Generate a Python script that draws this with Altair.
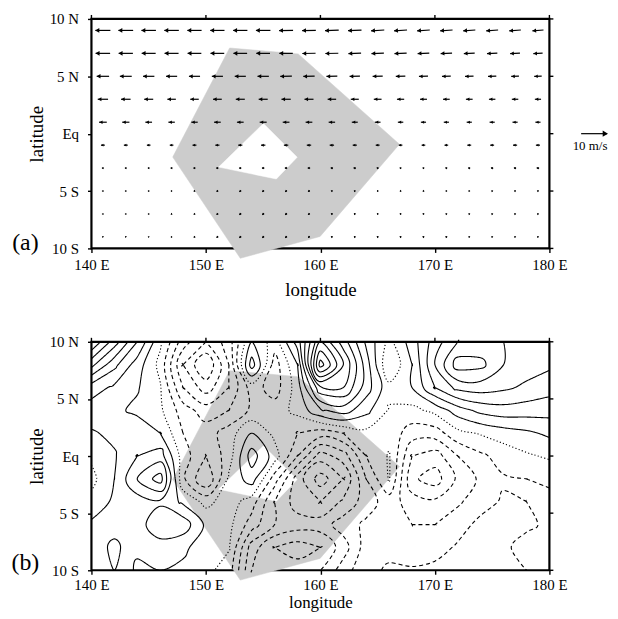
import numpy as np
import pandas as pd
import altair as alt

# ---------------- data ----------------
x_ticks = [140, 150, 160, 170, 180]
y_ticks = [-10, -5, 0, 5, 10]

# shaded region (outer polygon and inner hole), lon/lat
outer_lon = [152.07, 158.06, 166.9, 159.97, 153.0, 147.1]
outer_lat = [7.47, 6.95, -0.92, -8.96, -10.86, -2.04]
hole_lon = [155.02, 157.97, 156.15, 151.11]
hole_lat = [0.89, -2.05, -3.95, -2.91]

# panel (a): wind vectors (m/s) on a 2-degree grid
vec_lons = [141, 143, 145, 147, 149, 151, 153, 155, 157, 159,
            161, 163, 165, 167, 169, 171, 173, 175, 177, 179]
vec_lats = [9, 7, 5, 3, 1, -1, -3, -5, -7, -9]
U = [
    [-5.8, -5.7, -5.6, -5.6, -5.5, -5.5, -5.5, -5.6, -5.4, -5.3, -5.3, -5.2, -5.1, -5.0, -4.9, -4.8, -4.7, -4.6, -4.5, -4.3],
    [-5.6, -5.5, -5.4, -5.4, -5.3, -5.3, -5.3, -5.3, -5.2, -5.1, -5.0, -4.9, -4.8, -4.7, -4.5, -4.4, -4.2, -4.0, -3.8, -3.6],
    [-4.8, -4.6, -4.4, -4.3, -4.3, -4.3, -4.3, -4.4, -4.5, -4.4, -4.2, -4.0, -3.9, -3.7, -3.5, -3.4, -3.3, -3.2, -3.0, -2.9],
    [-4.0, -3.7, -3.5, -3.3, -3.3, -3.4, -3.5, -3.5, -3.6, -3.5, -3.3, -3.1, -3.0, -2.8, -2.7, -2.6, -2.6, -2.5, -2.5, -2.4],
    [-3.0, -2.8, -2.6, -2.5, -2.5, -2.6, -2.6, -2.7, -2.6, -2.6, -2.5, -2.3, -2.2, -2.1, -2.0, -2.0, -2.0, -2.0, -2.0, -2.0],
    [-1.5, -1.5, -1.4, -1.4, -1.5, -1.6, -1.6, -1.7, -1.7, -1.7, -1.7, -1.6, -1.5, -1.4, -1.4, -1.4, -1.5, -1.5, -1.6, -1.6],
    [-0.5, -0.5, -0.5, -0.6, -0.7, -0.8, -0.8, -0.9, -0.9, -0.9, -0.8, -0.8, -0.6, -0.5, -0.5, -0.6, -0.7, -0.8, -0.8, -0.9],
    [-0.3, -0.3, -0.3, -0.3, -0.4, -0.5, -0.6, -0.6, -0.6, -0.6, -0.5, -0.4, -0.2, -0.1, -0.1, -0.2, -0.2, -0.3, -0.4, -0.4],
    [-0.3, -0.3, -0.3, -0.3, -0.4, -0.5, -0.6, -0.6, -0.6, -0.6, -0.5, -0.4, -0.3, -0.3, -0.3, -0.3, -0.3, -0.3, -0.3, -0.3],
    [-0.2, -0.2, -0.2, -0.3, -0.4, -0.5, -0.6, -0.6, -0.6, -0.5, -0.5, -0.4, -0.4, -0.4, -0.4, -0.4, -0.3, -0.3, -0.3, -0.3],
]
V = [
    [0.0, 0.0, 0.0, 0.0, 0.0, 0.0, 0.0, 0.0, -0.1, -0.1, -0.2, -0.2, -0.3, -0.3, -0.3, -0.3, -0.3, -0.3, -0.3, -0.3],
    [0.0, 0.0, 0.0, 0.0, 0.0, 0.0, 0.0, 0.0, 0.0, -0.1, -0.1, -0.2, -0.2, -0.2, -0.2, -0.2, -0.2, -0.2, -0.2, -0.2],
    [0.0, 0.0, 0.0, 0.0, 0.0, 0.0, 0.0, 0.0, -0.1, -0.1, -0.1, -0.1, -0.1, -0.1, -0.1, -0.1, -0.1, -0.1, -0.1, -0.1],
    [0.0, 0.0, 0.0, 0.0, 0.0, 0.0, 0.0, 0.0, 0.0, 0.0, 0.0, 0.0, 0.0, 0.0, 0.0, 0.0, 0.0, 0.0, 0.0, 0.0],
    [0.0, 0.0, 0.0, 0.0, 0.0, 0.0, 0.0, 0.0, 0.0, 0.0, 0.0, 0.0, 0.0, 0.0, 0.0, 0.0, 0.0, 0.0, 0.0, 0.0],
    [0.0, 0.0, 0.0, 0.0, 0.0, 0.0, 0.0, 0.0, 0.0, 0.0, 0.0, 0.0, 0.0, 0.0, 0.0, 0.0, 0.0, 0.0, 0.0, 0.0],
    [0.0, 0.0, 0.0, 0.0, 0.0, 0.0, 0.0, 0.0, 0.0, 0.0, 0.2, 0.2, 0.3, 0.3, 0.3, 0.3, 0.2, 0.2, 0.2, 0.2],
    [0.0, 0.0, 0.0, 0.0, -0.2, -0.4, -0.5, -0.5, -0.5, -0.4, 0.2, 0.3, 0.4, 0.4, 0.4, 0.3, 0.3, 0.3, 0.2, 0.2],
    [0.0, 0.0, 0.0, -0.1, -0.3, -0.5, -0.6, -0.6, -0.6, -0.5, 0.3, 0.4, 0.4, 0.4, 0.4, 0.3, 0.3, 0.3, 0.3, 0.3],
    [0.2, 0.2, 0.1, 0.0, -0.3, -0.5, -0.6, -0.6, -0.6, -0.5, 0.3, 0.4, 0.4, 0.4, 0.4, 0.4, 0.3, 0.3, 0.3, 0.3],
]
ref_vec_lon, ref_vec_lat, ref_vec_speed = [183.9], [0.0], [10.0]
ref_label = ["10 m/s"]

# panel (b): gridded field (contour interval 1)
grid_lons = [140, 142, 144, 146, 148, 150, 152, 154, 156, 158, 160,
             162, 164, 166, 168, 170, 172, 174, 176, 178, 180]
grid_lats = [10, 8, 6, 4, 2, 0, -2, -4, -6, -8, -10]
field = [
    [8.0, 5.5, 3.0, 0.2, -2.5, -4.0, -2.5, 1.0, -0.5, 2.5, 7.0, 4.5, 1.8, -0.3, 1.5, 3.5, 5.0, 5.3, 5.0, 4.6, 4.5],
    [5.3, 3.3, 1.5, -0.3, -4.0, -6.0, -3.0, 2.5, -1.5, 1.0, 9.5, 6.0, 2.5, -1.0, 1.0, 4.0, 6.5, 6.3, 5.0, 4.5, 4.2],
    [2.5, 1.8, 1.1, 0.1, -3.0, -4.5, -3.0, -0.5, -1.5, 0.5, 4.8, 5.0, 2.5, 0.3, 1.0, 3.0, 4.3, 4.5, 4.2, 3.8, 3.4],
    [1.5, 1.2, 0.8, 0.2, -1.5, -2.5, -2.0, -0.8, -0.5, 0.3, 1.8, 2.5, 1.3, -0.1, -0.3, 0.3, 1.5, 2.3, 2.6, 2.5, 2.4],
    [0.9, 1.2, 1.6, 1.0, -1.0, -1.5, -0.5, 1.0, -0.3, -1.0, -1.5, -1.0, -0.3, -0.4, -1.5, -1.5, -0.3, 0.1, 0.5, 0.8, 1.2],
    [0.2, 0.9, 2.0, 2.5, -0.5, -2.0, -0.5, 2.5, 0.5, -2.0, -4.5, -3.5, -1.0, 0.1, -3.0, -3.5, -2.0, -1.2, -0.6, -0.15, 0.15],
    [-0.3, 1.0, 3.0, 4.5, -0.8, -3.0, 0.2, 1.5, -1.5, -4.5, -6.5, -5.0, -2.0, 0.1, -3.8, -4.5, -2.8, -1.8, -1.1, -1.0, -0.8],
    [0.3, 1.2, 1.5, 1.8, 0.8, -0.3, 0.5, -0.5, -3.0, -4.5, -5.0, -3.8, -2.5, -1.5, -2.5, -2.8, -2.2, -1.3, -0.9, -1.0, -1.3],
    [1.2, 1.5, 1.5, 2.8, 2.6, 0.8, 0.3, -1.5, -3.0, -3.5, -3.5, -2.5, -1.8, -1.5, -2.0, -2.0, -1.3, -0.8, -0.7, -0.9, -1.1],
    [1.3, 2.3, 1.2, 1.5, 1.2, 0.5, 0.1, -3.5, -5.0, -5.5, -5.0, -3.5, -1.5, -1.2, -1.5, -1.3, -0.9, -0.7, -0.9, -1.2, -1.2],
    [1.0, 2.0, 0.8, 1.0, 0.8, 0.3, -0.5, -4.0, -4.5, -4.5, -4.0, -2.5, -1.2, -0.9, -0.9, -0.8, -0.7, -0.7, -0.8, -1.0, -1.3],
]
contour_levels = list(range(-7, 11))

# ---------------- derived tables ----------------
def poly_df(lons, lats):
    n = len(lons)
    return pd.DataFrame({"lon": list(lons) + [lons[0]], "lat": list(lats) + [lats[0]],
                         "idx": list(range(n + 1))})

outer_df = poly_df(outer_lon, outer_lat)
hole_df = poly_df(hole_lon, hole_lat)

K = 0.2257  # degrees per (m/s): 10 m/s -> ~26 px
rows = []
for j, la in enumerate(vec_lats):
    for i, lo in enumerate(vec_lons):
        rows.append((lo, la, U[j][i], V[j][i]))
for lo, la, sp in zip(ref_vec_lon, ref_vec_lat, ref_vec_speed):
    rows.append((lo, la, sp, 0.0))
vec = pd.DataFrame(rows, columns=["lon", "lat", "u", "v"])
vec["mag"] = np.hypot(vec.u, vec.v)
vec["x0"] = vec.lon - vec.u * K / 2
vec["x1"] = vec.lon + vec.u * K / 2
vec["y0"] = vec.lat - vec.v * K / 2
vec["y1"] = vec.lat + vec.v * K / 2
ln = vec.mag * K
hl = np.minimum(0.22, 0.45 * ln)
safe = np.where(vec.mag > 0, vec.mag, 1)
vec["hx"] = vec.x1 - hl * vec.u / safe
vec["hy"] = vec.y1 - hl * vec.v / safe
vec["ang"] = (np.degrees(np.arctan2(vec.u, vec.v)) + 360) % 360

Z = np.array(field, float)
GX = np.array(grid_lons, float)
GY = np.array(grid_lats, float)


def trace(level):
    ny, nx = Z.shape
    cache = {}

    def edge_pt(key):
        if key in cache:
            return cache[key]
        kind, i, j = key
        if kind == "h":
            z0, z1 = Z[j, i], Z[j, i + 1]
            t = (level - z0) / (z1 - z0)
            p = (GX[i] + t * (GX[i + 1] - GX[i]), GY[j])
        else:
            z0, z1 = Z[j, i], Z[j + 1, i]
            t = (level - z0) / (z1 - z0)
            p = (GX[i], GY[j] + t * (GY[j + 1] - GY[j]))
        cache[key] = p
        return p

    segs = []
    for j in range(ny - 1):
        for i in range(nx - 1):
            a = Z[j, i] > level
            b = Z[j, i + 1] > level
            c = Z[j + 1, i + 1] > level
            d = Z[j + 1, i] > level
            e_top, e_right = ("h", i, j), ("v", i + 1, j)
            e_bot, e_left = ("h", i, j + 1), ("v", i, j)
            crossed = []
            if a != b:
                crossed.append(e_top)
            if b != c:
                crossed.append(e_right)
            if c != d:
                crossed.append(e_bot)
            if d != a:
                crossed.append(e_left)
            if len(crossed) == 2:
                segs.append(tuple(crossed))
            elif len(crossed) == 4:
                centre = (Z[j, i] + Z[j, i + 1] + Z[j + 1, i + 1] + Z[j + 1, i]) / 4 > level
                if centre == a:
                    segs.append((e_top, e_right))
                    segs.append((e_bot, e_left))
                else:
                    segs.append((e_top, e_left))
                    segs.append((e_right, e_bot))
    adj = {}
    for k, (e1, e2) in enumerate(segs):
        adj.setdefault(e1, []).append(k)
        adj.setdefault(e2, []).append(k)
    used = [False] * len(segs)

    def walk(k, cur):
        path = [cur]
        while True:
            used[k] = True
            e1, e2 = segs[k]
            nxt = e2 if e1 == cur else e1
            path.append(nxt)
            cands = [m for m in adj[nxt] if not used[m]]
            if not cands:
                break
            k, cur = cands[0], nxt
        return path

    lines = []
    for e, ks in adj.items():
        if len(ks) == 1 and not used[ks[0]]:
            lines.append((walk(ks[0], e), False))
    for k in range(len(segs)):
        if not used[k]:
            p = walk(k, segs[k][0])
            lines.append((p[:-1], True))
    return [([edge_pt(e) for e in path], closed) for path, closed in lines]


crow = []
for lev in contour_levels:
    style = "pos" if lev > 0 else ("neg" if lev < 0 else "zero")
    for n, (line, closed) in enumerate(trace(lev + 1e-9)):
        for o, (lo, la) in enumerate(line):
            crow.append((f"{lev}_{n}", o, lo, la, style, closed))
cont = pd.DataFrame(crow, columns=["lid", "ord", "lon", "lat", "style", "closed"])
cont_open = cont[~cont.closed].drop(columns="closed")
cont_closed = cont[cont.closed].drop(columns="closed")

# ---------------- chart ----------------
W = 461
FONT = "Liberation Serif"
xsc = alt.Scale(domain=[140, 180], nice=False, zero=False)
ysc = alt.Scale(domain=[-10, 10], nice=False, zero=False)


def xaxis(label_pad, title_pad, title_size):
    return alt.Axis(values=x_ticks, labelExpr="datum.value + ' E'", title="longitude",
                    labelFlush=False, tickSize=4, labelPadding=label_pad, titlePadding=title_pad,
                    titleFontSize=title_size)


yax = alt.Axis(values=y_ticks,
               labelExpr="datum.value == 0 ? 'Eq' : (datum.value > 0 ? datum.value + ' N' : (-datum.value) + ' S')",
               title="latitude", tickSize=4, labelPadding=9, titlePadding=3)

tick_x_df = pd.DataFrame({"lon": x_ticks})
tick_y_df = pd.DataFrame({"lat": y_ticks})


def frame_layers():
    top = alt.Chart(tick_x_df).mark_rule(color="black", strokeWidth=1.4).encode(
        x=alt.X("lon:Q", scale=xsc), y=alt.value(0), y2=alt.value(-4))
    right = alt.Chart(tick_y_df).mark_rule(color="black", strokeWidth=1.4).encode(
        y=alt.Y("lat:Q", scale=ysc), x=alt.value(W), x2=alt.value(W + 4))
    return [top, right]


def shade_layers(xa):
    g = alt.Chart(outer_df).mark_line(fill="#cccccc", stroke="#cccccc", strokeWidth=0.5).encode(
        x=alt.X("lon:Q", scale=xsc, axis=xa), y=alt.Y("lat:Q", scale=ysc, axis=yax), order="idx:Q")
    h = alt.Chart(hole_df).mark_line(fill="white", stroke="white", strokeWidth=0.5).encode(
        x=alt.X("lon:Q", scale=xsc), y=alt.Y("lat:Q", scale=ysc), order="idx:Q")
    return [g, h]


def label(txt, yv):
    return alt.Chart(pd.DataFrame({"t": [txt]})).mark_text(
        font=FONT, fontSize=24, align="center", baseline="middle").encode(
        x=alt.value(-66.5), y=alt.value(yv), text="t:N")


shafts = alt.Chart(vec).mark_rule(color="black", strokeWidth=1.2).encode(
    x=alt.X("x0:Q", scale=xsc), x2="x1:Q", y=alt.Y("y0:Q", scale=ysc), y2="y1:Q")
heads = alt.Chart(vec).mark_point(shape="triangle", filled=True, color="black", opacity=1).encode(
    x=alt.X("hx:Q", scale=xsc), y=alt.Y("hy:Q", scale=ysc),
    angle=alt.Angle("ang:Q", scale=None),
    size=alt.Size("mag:Q", scale=alt.Scale(domain=[0, 6], range=[3, 24]), legend=None))
ref_text = alt.Chart(pd.DataFrame({"lon": [183.55], "lat": [-1.1], "t": ref_label})).mark_text(
    font=FONT, fontSize=13, align="center", baseline="middle").encode(
    x=alt.X("lon:Q", scale=xsc), y=alt.Y("lat:Q", scale=ysc), text="t:N")

panel_a = alt.layer(*shade_layers(xaxis(5, 8, 19)), shafts, heads, ref_text, label("(a)", 226),
                    *frame_layers()).properties(width=W, height=231)

dash = alt.StrokeDash("style:N", scale=alt.Scale(domain=["pos", "neg", "zero"],
                                                 range=[[1, 0], [4, 3], [1.2, 2.2]]), legend=None)
c_open = alt.Chart(cont_open).mark_line(color="black", strokeWidth=1.1, interpolate="cardinal").encode(
    x=alt.X("lon:Q", scale=xsc), y=alt.Y("lat:Q", scale=ysc),
    detail="lid:N", order="ord:Q", strokeDash=dash)
c_closed = alt.Chart(cont_closed).mark_line(color="black", strokeWidth=1.1,
                                            interpolate="cardinal-closed").encode(
    x=alt.X("lon:Q", scale=xsc), y=alt.Y("lat:Q", scale=ysc),
    detail="lid:N", order="ord:Q", strokeDash=dash)

panel_b = alt.layer(*shade_layers(xaxis(3, 2.5, 17)), c_open, c_closed, label("(b)", 223),
                    *frame_layers()).properties(width=W, height=230)

chart = alt.vconcat(panel_a, panel_b, spacing=32).properties(
    padding={"left": 2, "top": 0, "right": 0, "bottom": 0}
).configure_view(stroke="black", strokeWidth=2.2).configure_axis(
    labelFont=FONT, labelFontSize=15, labelColor="black", titleFont=FONT, titleFontSize=19,
    titleFontWeight="normal", titleColor="black", tickColor="black", tickWidth=1.4,
    domain=False, grid=False
)

chart.save("out.html", embed_options={"renderer": "svg", "actions": False})
